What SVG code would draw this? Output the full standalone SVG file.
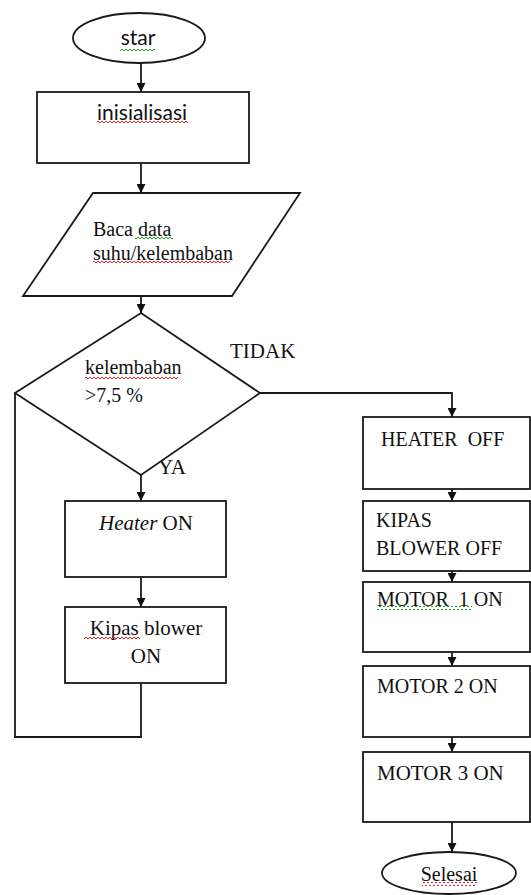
<svg xmlns="http://www.w3.org/2000/svg" width="531" height="895" viewBox="0 0 531 895">
<defs>
<marker id="arr" viewBox="0 0 10 10" refX="10" refY="5" markerWidth="9" markerHeight="9" markerUnits="userSpaceOnUse" orient="auto">
<path d="M0,0 L10,5 L0,10 z" fill="#111"/>
</marker>
<pattern id="wr" width="4" height="4" patternUnits="userSpaceOnUse">
<path d="M0,3 L2,1 L4,3" fill="none" stroke="#e02020" stroke-width="1"/>
</pattern>
<pattern id="wg" width="4" height="4" patternUnits="userSpaceOnUse">
<path d="M0,3 L2,1 L4,3" fill="none" stroke="#20a020" stroke-width="1"/>
</pattern>
</defs>
<style>
.s{fill:#fff;stroke:#1a1a1a;stroke-width:1.8}
.c{fill:none;stroke:#1a1a1a;stroke-width:1.8}
.t{font-family:"Liberation Serif","Times New Roman",serif;font-size:20px;fill:#111}
.k{font-family:Lato,"Liberation Sans",sans-serif;font-size:21px;fill:#111}
.m{text-anchor:middle}
</style>
<rect width="531" height="895" fill="#fff"/>
<g id="connectors">
<line class="c" x1="141" y1="63" x2="141" y2="92" marker-end="url(#arr)"/>
<line class="c" x1="141" y1="163" x2="141" y2="193" marker-end="url(#arr)"/>
<line class="c" x1="141" y1="296" x2="141" y2="313" marker-end="url(#arr)"/>
<line class="c" x1="141" y1="475" x2="141" y2="501" marker-end="url(#arr)"/>
<line class="c" x1="141" y1="577" x2="141" y2="607" marker-end="url(#arr)"/>
<path class="c" d="M141,683 L141,737 L15,737 L15,393"/>
<path class="c" d="M260,393 L452,393 L452,417" marker-end="url(#arr)"/>
<line class="c" x1="452" y1="489" x2="452" y2="501" marker-end="url(#arr)"/>
<line class="c" x1="452" y1="571" x2="452" y2="582" marker-end="url(#arr)"/>
<line class="c" x1="452" y1="652" x2="452" y2="666" marker-end="url(#arr)"/>
<line class="c" x1="452" y1="737" x2="452" y2="752" marker-end="url(#arr)"/>
<line class="c" x1="452" y1="822" x2="452" y2="852" marker-end="url(#arr)"/>
<text class="t" x="230" y="358" style="font-size:21px">TIDAK</text>
<text class="t" x="158" y="474" style="font-size:21px">YA</text>
</g>
<g id="start">
<ellipse class="s" cx="139" cy="38" rx="66" ry="25"/>
<text class="k m" x="138" y="45">star</text>
<rect x="120" y="47" width="35" height="4" fill="url(#wg)"/>
</g>
<g id="init">
<rect class="s" x="37" y="92" width="212" height="71"/>
<text class="k m" x="142" y="120">inisialisasi</text>
<rect x="97" y="121" width="91" height="4" fill="url(#wr)"/>
</g>
<g id="read">
<polygon class="s" points="93,193 300,193 232,296 23,296"/>
<text class="t" x="93" y="236">Baca data</text>
<rect x="135" y="236" width="38" height="4" fill="url(#wg)"/>
<text class="t" x="93" y="260">suhu/kelembaban</text>
<rect x="93" y="260" width="137" height="4" fill="url(#wr)"/>
</g>
<g id="decision">
<polygon class="s" points="141,313 260,393 141,475 15,393"/>
<text class="t" x="85" y="374">kelembaban</text>
<rect x="85" y="375" width="93" height="4" fill="url(#wr)"/>
<text class="t" x="85" y="402">&gt;7,5 %</text>
</g>
<g id="heater-on">
<rect class="s" x="65" y="501" width="161" height="76"/>
<text class="t m" x="146" y="530" style="font-size:21px"><tspan font-style="italic">Heater</tspan> ON</text>
</g>
<g id="kipas-on">
<rect class="s" x="65" y="607" width="161" height="76"/>
<text class="t m" x="146" y="635" style="font-size:21px">Kipas blower</text>
<rect x="84" y="636" width="56" height="4" fill="url(#wr)"/>
<text class="t m" x="146" y="663" style="font-size:21px">ON</text>
</g>
<g id="heater-off">
<rect class="s" x="363" y="417" width="167" height="72"/>
<text class="t" x="381" y="446" xml:space="preserve">HEATER  OFF</text>
</g>
<g id="kipas-off">
<rect class="s" x="363" y="501" width="167" height="70"/>
<text class="t" x="376" y="527">KIPAS</text>
<text class="t" x="376" y="555">BLOWER OFF</text>
</g>
<g id="motor1">
<rect class="s" x="363" y="582" width="167" height="70"/>
<text class="t" x="377" y="606" xml:space="preserve">MOTOR  1 ON</text>
<rect x="377" y="606" width="95" height="4" fill="url(#wg)"/>
</g>
<g id="motor2">
<rect class="s" x="363" y="666" width="167" height="71"/>
<text class="t" x="377" y="693">MOTOR 2 ON</text>
</g>
<g id="motor3">
<rect class="s" x="363" y="752" width="167" height="70"/>
<text class="t" x="377" y="780" style="font-size:21px">MOTOR 3 ON</text>
</g>
<g id="end">
<ellipse class="s" cx="449" cy="873" rx="67" ry="21"/>
<text class="t m" x="449" y="881">Selesai</text>
<rect x="422" y="882" width="55" height="4" fill="url(#wr)"/>
</g>
</svg>
